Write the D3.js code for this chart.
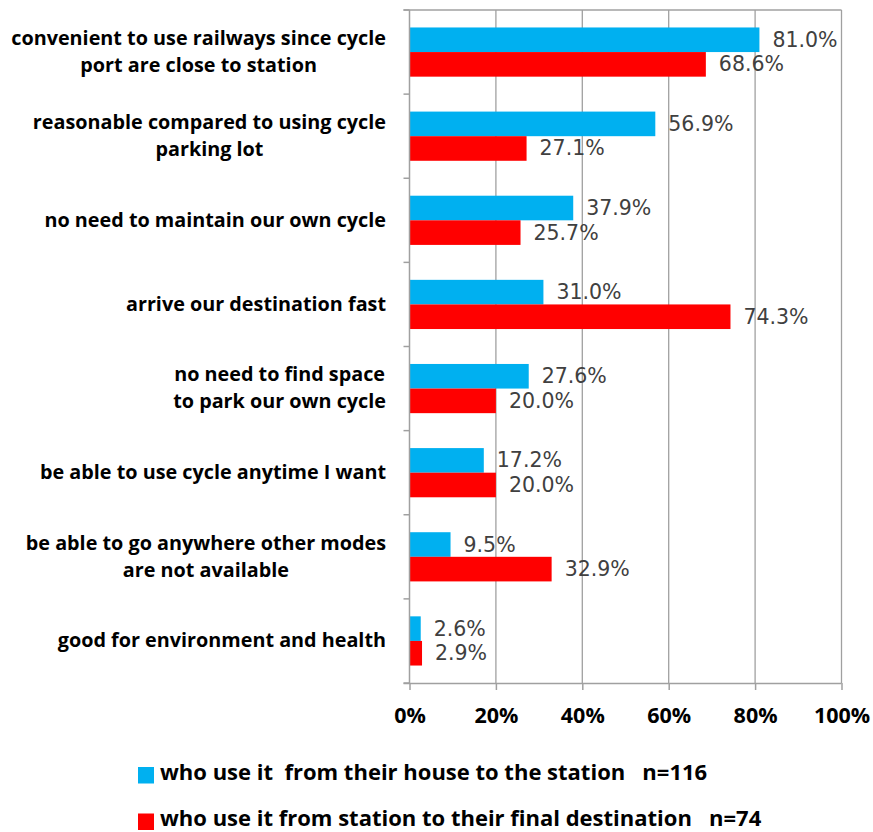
<!DOCTYPE html>
<html><head><meta charset="utf-8">
<script src="https://cdn.jsdelivr.net/npm/d3@7"></script>
<style>body{margin:0;background:#fff}</style>
</head><body>
<script>
const categories = [
  ["convenient to use railways since cycle","port are close to station"],
  ["reasonable compared to using cycle","parking lot"],
  ["no need to maintain our own cycle"],
  ["arrive our destination fast"],
  ["no need to find space","to park our own cycle"],
  ["be able to use cycle anytime I want"],
  ["be able to go anywhere other modes","are not available"],
  ["good for environment and health"]
];
const seriesNames = ["who use it  from their house to the station   n=116",
                     "who use it from station to their final destination   n=74"];
const houseToStation = [81.0, 56.9, 37.9, 31.0, 27.6, 17.2, 9.5, 2.6];
const stationToDest  = [68.6, 27.1, 25.7, 74.3, 20.0, 20.0, 32.9, 2.9];
const xTicks = [0, 20, 40, 60, 80, 100];
const colors = ["#00B0F0", "#FF0000"];

(function(){
const W = 873, H = 832;
const svg = d3.select("body").append("svg").attr("width", W).attr("height", H);
const pLeft = 409.5, pRight = 841.5, pTop = 10, pBottom = 683;
const x = d3.scaleLinear().domain([0, 100]).range([pLeft, pRight]);
const y = d3.scaleBand().domain(d3.range(categories.length)).range([pTop, pBottom]).paddingInner(0).paddingOuter(0);
const inner = d3.scaleBand().domain([0, 1]).range([0, y.bandwidth()]).paddingOuter(0.71).paddingInner(0);

// gridlines
svg.append("g").selectAll("line").data(xTicks.slice(1)).join("line")
  .attr("x1", d => x(d)).attr("x2", d => x(d)).attr("y1", pTop).attr("y2", pBottom)
  .attr("stroke", "#a0a0a0").attr("stroke-width", 1.3);
svg.append("line").attr("x1", pLeft - 6).attr("x2", pRight).attr("y1", pTop).attr("y2", pTop)
  .attr("stroke", "#a0a0a0").attr("stroke-width", 1.3);

// bars
const data = [houseToStation, stationToDest];
data.forEach((vals, si) => {
  const g = svg.append("g");
  g.selectAll("rect").data(vals).join("rect")
    .attr("x", x(0)).attr("y", (d, i) => y(i) + inner(si))
    .attr("width", d => x(d) - x(0)).attr("height", inner.bandwidth())
    .attr("fill", colors[si]);
  g.selectAll("text").data(vals).join("text")
    .attr("x", d => x(d) + 13).attr("y", (d, i) => y(i) + inner(si) + inner.bandwidth() / 2 + 1)
    .attr("dominant-baseline", "middle")
    .attr("font-family", "'DejaVu Sans', sans-serif").attr("font-size", 20.5)
    .attr("fill", "#404040")
    .text(d => d.toFixed(1) + "%");
});

// y axis
const yAxisG = svg.append("g").attr("transform", `translate(${pLeft},0)`);
yAxisG.append("line").attr("x1", 0).attr("x2", 0).attr("y1", pTop).attr("y2", pBottom)
  .attr("stroke", "#a0a0a0").attr("stroke-width", 1.5);
yAxisG.selectAll("line.t").data(d3.range(categories.length + 1)).join("line").attr("class", "t")
  .attr("x1", -6).attr("x2", 0)
  .attr("y1", d => pTop + d * y.step()).attr("y2", d => pTop + d * y.step())
  .attr("stroke", "#a0a0a0").attr("stroke-width", 1.5);

// category labels
const lab = svg.append("g").attr("font-family", "'Open Sans', sans-serif").attr("font-weight", "bold")
  .attr("font-size", 19.8).attr("fill", "#000");
categories.forEach((lines, i) => {
  const cy = y(i) + y.bandwidth() / 2;
  const lh = 27;
  if (lines.length === 1) {
    lab.append("text").attr("y", cy + 1).attr("dominant-baseline", "middle")
      .attr("x", 386).attr("text-anchor", "end").text(lines[0]);
  } else {
    const tmp = lab.append("text").text(lines[0]);
    const wmax = d3.max(lines, l => { tmp.text(l); return tmp.node().getComputedTextLength(); });
    tmp.remove();
    const cx = 386 - wmax / 2;
    lines.forEach((l, k) => {
      lab.append("text").attr("x", cx).attr("text-anchor", "middle")
        .attr("y", cy - (lines.length - 1) * lh / 2 + k * lh + 1)
        .attr("dominant-baseline", "middle").text(l);
    });
  }
});

// x axis
const xAxis = d3.axisBottom(x).tickValues(xTicks).tickSize(7).tickFormat(d => d + "%");
const xg = svg.append("g").attr("transform", `translate(0,${pBottom})`).call(xAxis);
xg.select(".domain").attr("stroke", "#a0a0a0").attr("stroke-width", 1.5).attr("d", `M${pLeft - 6},0.5H${pRight}`);
xg.selectAll(".tick line").attr("stroke", "#a0a0a0").attr("stroke-width", 1.5);
xg.selectAll(".tick text").attr("font-family", "'Open Sans', sans-serif").attr("font-weight", "bold")
  .attr("font-size", 21.5).attr("fill", "#000").attr("dy", 0).attr("y", 34)
  .attr("dominant-baseline", "middle");

// legend
const leg = svg.append("g");
seriesNames.forEach((n, i) => {
  const ly = 775 + i * 46.5;
  leg.append("rect").attr("x", 138).attr("y", ly - 8).attr("width", 16).attr("height", 16.5).attr("fill", colors[i]);
  leg.append("text").attr("x", 160).attr("y", ly - 1).attr("dominant-baseline", "middle")
    .attr("font-family", "'Open Sans', sans-serif").attr("font-weight", "bold").attr("font-size", 22)
    .attr("fill", "#000").style("white-space", "pre").text(n);
});
})();
</script>
</body></html>
